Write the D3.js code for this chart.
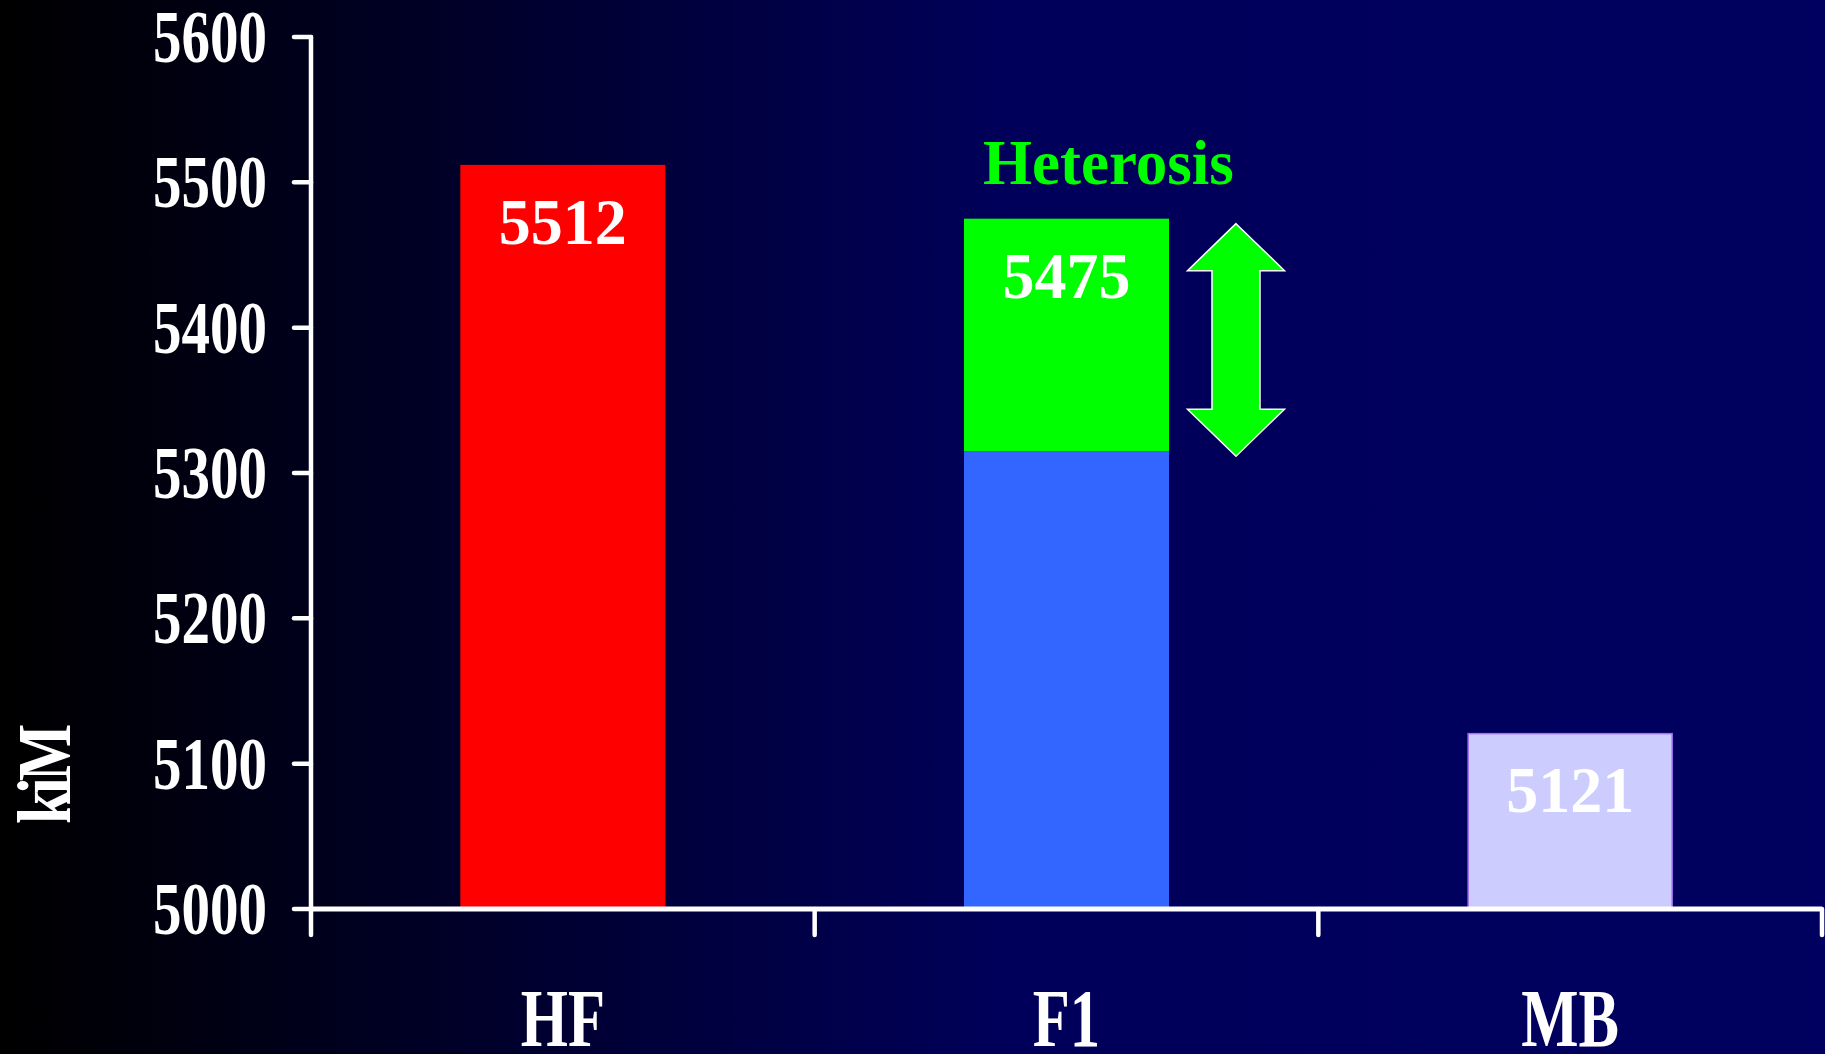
<!DOCTYPE html>
<html>
<head>
<meta charset="utf-8">
<script src="https://cdn.jsdelivr.net/npm/d3@7"></script>
<style>
    html, body { margin: 0; padding: 0; background: #000; }
    svg { display: block; }
</style>
</head>
<body>
<div id="chart"></div>
<script>
// chart values
const categories = ['HF', 'F1', 'MB'];
const values = [5512, 5475, 5121];
const f1Base = 5315; // mid-parent level, blue part of F1
const yTicks = [5000, 5100, 5200, 5300, 5400, 5500, 5600];
const yLabel = 'kiM';
const heterosisLabel = 'Heterosis';

const W = 1825, H = 1054;
const margin = { top: 37, right: 3, bottom: 145, left: 311 };

const svg = d3.select('#chart').append('svg')
    .attr('width', W)
    .attr('height', H);

// background gradient
const defs = svg.append('defs');
const grad = defs.append('linearGradient').attr('id', 'bg')
    .attr('x1', '0%').attr('x2', '100%').attr('y1', '0%').attr('y2', '0%');
grad.append('stop').attr('offset', '0%').attr('stop-color', '#000000');
grad.append('stop').attr('offset', '55%').attr('stop-color', '#00005a');
grad.append('stop').attr('offset', '100%').attr('stop-color', '#000060');
svg.append('rect').attr('width', W).attr('height', H).attr('fill', 'url(#bg)');

// scales
const x = d3.scaleBand()
    .domain(categories)
    .range([margin.left, W - margin.right]);
const y = d3.scaleLinear()
    .domain([5000, 5600])
    .range([H - margin.bottom, margin.top]);

const barW = x.bandwidth() * 0.407;
const serif = '"Liberation Serif", "Times New Roman", serif';

// bars
const bars = categories.map((c, i) => ({ cat: c, value: values[i] }));
const barX = d => x(d.cat) + (x.bandwidth() - barW) / 2;

// HF
svg.append('rect')
    .attr('x', barX(bars[0])).attr('y', y(bars[0].value))
    .attr('width', barW).attr('height', y(5000) - y(bars[0].value))
    .attr('fill', '#ff0000');

// F1: blue base + green heterosis part
svg.append('rect')
    .attr('x', barX(bars[1])).attr('y', y(f1Base))
    .attr('width', barW).attr('height', y(5000) - y(f1Base))
    .attr('fill', '#3366ff');
svg.append('rect')
    .attr('x', barX(bars[1])).attr('y', y(bars[1].value))
    .attr('width', barW).attr('height', y(f1Base) - y(bars[1].value))
    .attr('fill', '#00ff00');

// MB
svg.append('rect')
    .attr('x', barX(bars[2]) + 0.5).attr('y', y(bars[2].value) + 0.5)
    .attr('width', barW - 1).attr('height', y(5000) - y(bars[2].value))
    .attr('fill', '#ccccff')
    .attr('stroke', '#a070f0')
    .attr('stroke-width', 1.5);

// value labels
svg.selectAll('.val')
    .data(bars)
    .enter()
    .append('text')
    .attr('class', 'val')
    .attr('transform', d => `translate(${x(d.cat) + x.bandwidth() / 2},${y(d.value) + 79}) scale(0.97,1)`)
    .attr('text-anchor', 'middle')
    .attr('font-family', serif)
    .attr('font-weight', 'bold')
    .attr('font-size', 66)
    .attr('fill', '#ffffff')
    .text(d => d.value);

// heterosis label
svg.append('text')
    .attr('x', barX(bars[1]) + 19)
    .attr('y', y(bars[1].value) - 35)
    .attr('font-family', serif)
    .attr('font-weight', 'bold')
    .attr('font-size', 63)
    .attr('fill', '#00ff00')
    .text(heterosisLabel);

// double arrow next to F1
const ax = barX(bars[1]) + barW + 67;
const aTop = y(bars[1].value) + 5;
const aBot = y(f1Base) + 5;
const headH = 47, headW = 48.5, shaftW = 24;
const arrowPts = [
    [ax, aTop],
    [ax + headW, aTop + headH],
    [ax + shaftW, aTop + headH],
    [ax + shaftW, aBot - headH],
    [ax + headW, aBot - headH],
    [ax, aBot],
    [ax - headW, aBot - headH],
    [ax - shaftW, aBot - headH],
    [ax - shaftW, aTop + headH],
    [ax - headW, aTop + headH]
];
svg.append('path')
    .attr('d', d3.line()(arrowPts) + 'Z')
    .attr('fill', '#00ff00')
    .attr('stroke', '#ffffff')
    .attr('stroke-width', 1.5);

// axes
const axisColor = '#ffffff';
const yAxis = svg.append('g');
yAxis.append('line')
    .attr('x1', margin.left).attr('x2', margin.left)
    .attr('y1', y(5600)).attr('y2', y(5000) + 26)
    .attr('stroke', axisColor).attr('stroke-width', 4.5).attr('stroke-linecap', 'round');
yAxis.selectAll('.ytick')
    .data(yTicks)
    .enter()
    .append('line')
    .attr('x1', margin.left - 17).attr('x2', margin.left)
    .attr('y1', d => y(d)).attr('y2', d => y(d))
    .attr('stroke', axisColor).attr('stroke-width', 4.5).attr('stroke-linecap', 'round');
yAxis.selectAll('.ylab')
    .data(yTicks)
    .enter()
    .append('text')
    .attr('transform', d => `translate(267,${y(d) + 25}) scale(0.76,1)`)
    .attr('text-anchor', 'end')
    .attr('font-family', serif)
    .attr('font-weight', 'bold')
    .attr('font-size', 75)
    .attr('fill', '#ffffff')
    .text(d => d);

const xAxis = svg.append('g');
xAxis.append('line')
    .attr('x1', margin.left).attr('x2', W - margin.right)
    .attr('y1', y(5000)).attr('y2', y(5000))
    .attr('stroke', axisColor).attr('stroke-width', 5);
const bounds = categories.map(c => x(c)).concat([x.range()[1]]).slice(1);
xAxis.selectAll('.xtick')
    .data(bounds)
    .enter()
    .append('line')
    .attr('x1', d => d).attr('x2', d => d)
    .attr('y1', y(5000)).attr('y2', y(5000) + 26)
    .attr('stroke', axisColor).attr('stroke-width', 4.5).attr('stroke-linecap', 'round');
xAxis.selectAll('.xlab')
    .data(categories)
    .enter()
    .append('text')
    .attr('transform', d => `translate(${x(d) + x.bandwidth() / 2},1046) scale(0.74,1)`)
    .attr('text-anchor', 'middle')
    .attr('font-family', serif)
    .attr('font-weight', 'bold')
    .attr('font-size', 82)
    .attr('fill', '#ffffff')
    .text(d => d);

// y axis title
svg.append('text')
    .attr('transform', 'translate(70,776) rotate(-90) scale(0.8,1)')
    .attr('text-anchor', 'middle')
    .attr('font-family', serif)
    .attr('font-weight', 'bold')
    .attr('font-size', 76)
    .attr('letter-spacing', -5)
    .attr('fill', '#ffffff')
    .text(yLabel);
</script>
</body>
</html>
